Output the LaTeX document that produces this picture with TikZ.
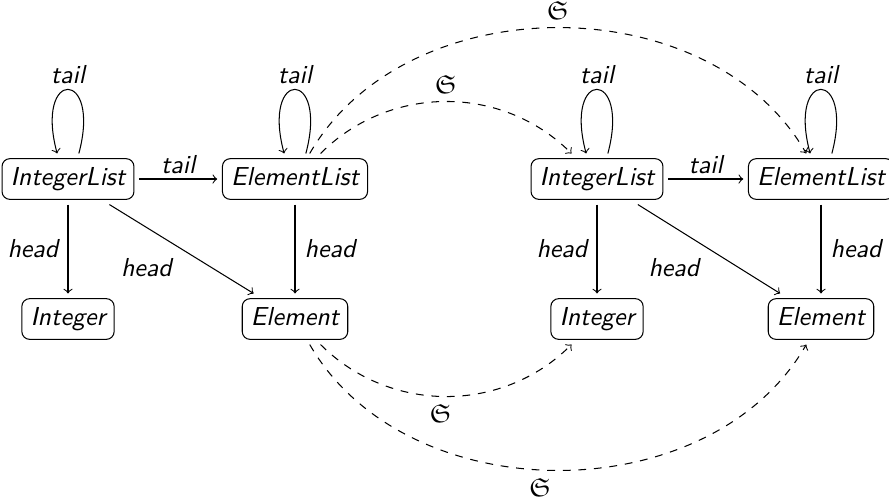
\documentclass[tikz,border=0pt]{standalone}
\usepackage{amssymb}
\begin{document}
\begin{tikzpicture}[x=0.385pt,y=-0.385pt,
  obj/.style={draw,rounded corners=3pt,font=\sffamily\itshape,inner sep=3.33pt,outer sep=2pt,text height=7pt,text depth=2pt},
  lbl/.style={font=\sffamily\itshape,inner sep=2pt},
  hlbl/.style={font=\sffamily\itshape,inner sep=3.5pt},
  arr/.style={->},
  sarr/.style={->,dashed},
  slbl/.style={inner sep=3pt},
  selfloop/.style={->,out=75,in=105,distance=34pt}
]
\useasboundingbox (0,0) rectangle (889,502);
\node[obj] (il1) at (68,179) {IntegerList};
\node[obj] (el1) at (295,179) {ElementList};
\node[obj] (i1) at (68,319) {Integer};
\node[obj] (e1) at (295,319) {Element};
\node[obj] (il2) at (597,179) {IntegerList};
\node[obj] (el2) at (821,179) {ElementList};
\node[obj] (i2) at (597,319) {Integer};
\node[obj] (e2) at (821,319) {Element};

\draw[selfloop] (il1.67) to node[lbl,above]{tail} (il1.113);
\draw[selfloop] (el1.67) to node[lbl,above]{tail} (el1.113);
\draw[selfloop] (il2.67) to node[lbl,above]{tail} (il2.113);
\draw[selfloop] (el2.67) to node[lbl,above]{tail} (el2.113);

\draw[arr] (il1) -- node[lbl,above]{tail} (el1);
\draw[arr] (il2) -- node[lbl,above]{tail} (el2);
\draw[arr] (il1) -- node[hlbl,left]{head} (i1);
\draw[arr] (el1) -- node[hlbl,right]{head} (e1);
\draw[arr] (il1) -- node[hlbl,below left]{head} (e1);
\draw[arr] (il2) -- node[hlbl,left]{head} (i2);
\draw[arr] (el2) -- node[hlbl,right]{head} (e2);
\draw[arr] (il2) -- node[hlbl,below left]{head} (e2);

\draw[sarr] (el1) to[bend left=45] node[slbl,above]{$\mathfrak{S}$} (il2);
\draw[sarr] (el1) to[bend left=60] node[slbl,above]{$\mathfrak{S}$} (el2);
\draw[sarr] (e1) to[bend right=45] node[slbl,below,pos=0.48]{$\mathfrak{S}$} (i2);
\draw[sarr] (e1) to[bend right=60] node[slbl,below,pos=0.47]{$\mathfrak{S}$} (e2);
\end{tikzpicture}
\end{document}
